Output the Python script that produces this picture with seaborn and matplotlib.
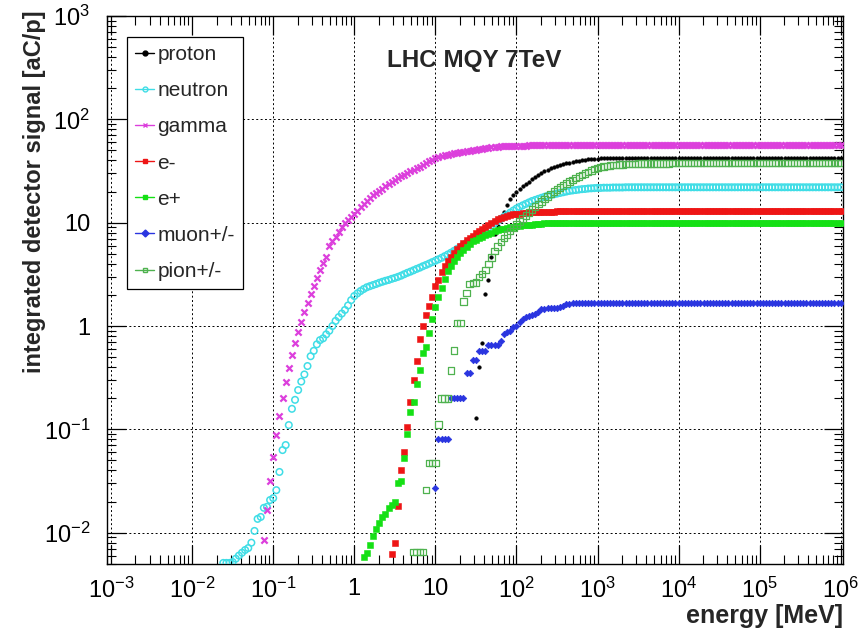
import numpy as np
import pandas as pd
import matplotlib
matplotlib.use("Agg")
import matplotlib.pyplot as plt
from matplotlib.lines import Line2D
from matplotlib.ticker import FixedLocator, FuncFormatter, NullFormatter
import seaborn as sns

# Energy binning of the scan: 26 log bins per decade, bin k sits at 10**(k/26) MeV
BINS_PER_DECADE = 26

# Integrated detector signal [aC/p] per particle, listed from the first non-zero bin
proton_first_bin = 39
proton = [
    0.13, 0.40, 0.68, 2.06, 2.8, 4.7, 7.7, 9.3, 10.6, 12.6, 14.8, 16.8, 18.5,
    19.9, 21.3, 22.5, 23.5, 25.0, 26.3, 27.4, 28.8, 30.3, 31.5, 32.5, 33.5, 34.3,
    35.0, 35.8, 36.6, 37.4, 38.1, 38.8, 39.3, 39.8, 40.3, 40.6, 40.9, 41.2, 41.5,
    41.7, 41.8, 41.9, 41.9, 42.0, 42.0, 42.0, 42.1, 42.1, 42.1, 42.1, 42.2, 42.2,
    42.2, 42.2, 42.2, 42.2, 42.3, 42.3, 42.3, 42.3, 42.3, 42.3, 42.3, 42.3, 42.3,
    42.3, 42.3, 42.3, 42.3, 42.3, 42.3, 42.3, 42.3, 42.3, 42.3, 42.3, 42.3, 42.3,
    42.3, 42.3, 42.3, 42.3, 42.3, 42.3, 42.3, 42.3, 42.3, 42.3, 42.3, 42.3, 42.3,
    42.3, 42.3, 42.3, 42.3, 42.3, 42.3, 42.3, 42.3, 42.3, 42.3, 42.3, 42.3, 42.3,
    42.3, 42.3, 42.3, 42.3, 42.3, 42.3, 42.3, 42.3, 42.3, 42.3, 42.3, 42.3, 42.3,
    42.3,
]

neutron_first_bin = -42
neutron = [
    0.0051, 0.0051, 0.0051,
    0.0052, 0.0056, 0.0060, 0.0064, 0.0068, 0.0071, 0.0080, 0.0104, 0.0136, 0.0142, 0.0174, 0.0178, 0.0207,
    0.0216, 0.0258, 0.0387, 0.063, 0.0705, 0.110, 0.158, 0.193, 0.24, 0.29, 0.34, 0.41, 0.51,
    0.575, 0.665, 0.73, 0.76, 0.83, 0.90, 1.0, 1.12, 1.22, 1.32, 1.43, 1.58, 1.78,
    1.95, 2.07, 2.18, 2.28, 2.37, 2.43, 2.49, 2.55, 2.62, 2.68, 2.74, 2.79, 2.86,
    2.92, 2.99, 3.07, 3.17, 3.27, 3.36, 3.46, 3.57, 3.67, 3.79, 3.90, 4.02, 4.15,
    4.28, 4.42, 4.57, 4.74, 4.92, 5.12, 5.34, 5.58, 5.83, 6.10, 6.38, 6.66, 6.94,
    7.22, 7.55, 7.95, 8.4, 8.9, 9.4, 9.9, 10.4, 10.9, 11.4, 11.9, 12.5, 13.1,
    13.7, 14.2, 14.7, 15.2, 15.7, 16.2, 16.6, 17.0, 17.4, 17.8, 18.2, 18.5, 18.8,
    19.1, 19.4, 19.7, 20.0, 20.3, 20.5, 20.7, 20.9, 21.1, 21.2, 21.4, 21.5, 21.6,
    21.7, 21.7, 21.8, 21.8, 21.8, 21.9, 21.9, 21.9, 21.9, 22.0, 22.0, 22.0, 22.0,
    22.0, 22.0, 22.0, 22.0, 22.0, 22.0, 22.0, 22.0, 22.0, 22.0, 22.0, 22.0, 22.0,
    22.0, 22.0, 22.0, 22.0, 22.0, 22.0, 22.0, 22.0, 22.0, 22.0, 22.0, 22.0, 22.0,
    22.0, 22.0, 22.0, 22.0, 22.0, 22.0, 22.0, 22.0, 22.0, 22.0, 22.0, 22.0, 22.0,
    22.0, 22.0, 22.0, 22.0, 22.0, 22.0, 22.0, 22.0, 22.0, 22.0, 22.0, 22.0, 22.0,
    22.0, 22.0, 22.0, 22.0, 22.0, 22.0, 22.0, 22.0, 22.0, 22.0, 22.0, 22.0, 22.0,
    22.0,
]

gamma_first_bin = -29
gamma = [
    0.0085, 0.0164, 0.0316,
    0.054, 0.089, 0.136, 0.20, 0.286, 0.39, 0.52, 0.685, 0.87, 1.10, 1.37, 1.68, 2.05,
    2.45, 2.93, 3.47, 4.07, 4.68, 5.96, 6.6, 7.33, 8.13, 9.0, 9.9, 10.6, 11.4,
    12.2, 13.1, 14.1, 15.2, 16.3, 17.5, 18.6, 19.5, 20.4, 21.4, 22.5, 23.6, 24.7,
    25.7, 26.9, 28.0, 29.0, 30.2, 31.3, 32.4, 33.5, 34.9, 36.3, 37.8, 39.4, 40.7,
    42.2, 43.2, 44.0, 44.8, 45.5, 46.1, 46.8, 47.4, 48.1, 48.6, 49.2, 49.8, 50.4,
    50.9, 51.5, 52.1, 52.7, 53.2, 53.6, 54.0, 54.3, 54.6, 54.8, 55.1, 55.2, 55.3,
    55.5, 55.6, 55.7, 55.8, 55.9, 56.0, 56.0, 56.1, 56.1, 56.1, 56.2, 56.2, 56.2,
    56.2, 56.2, 56.2, 56.2, 56.2, 56.2, 56.2, 56.3, 56.3, 56.3, 56.3, 56.3, 56.3,
    56.3, 56.3, 56.3, 56.3, 56.3, 56.3, 56.3, 56.3, 56.3, 56.3, 56.3, 56.3, 56.3,
    56.3, 56.3, 56.3, 56.3, 56.3, 56.3, 56.3, 56.3, 56.3, 56.3, 56.3, 56.3, 56.3,
    56.3, 56.3, 56.3, 56.3, 56.3, 56.3, 56.3, 56.3, 56.3, 56.3, 56.3, 56.3, 56.3,
    56.3, 56.3, 56.3, 56.3, 56.3, 56.3, 56.3, 56.3, 56.3, 56.3, 56.3, 56.3, 56.3,
    56.3, 56.3, 56.3, 56.3, 56.3, 56.3, 56.3, 56.3, 56.3, 56.3, 56.3, 56.3, 56.3,
    56.3, 56.3, 56.3, 56.3, 56.3, 56.3, 56.3, 56.3, 56.3, 56.3, 56.3, 56.3, 56.3,
    56.3,
]

electron_first_bin = 12
electron = [
    0.0062,
    0.0079, 0.018, 0.040, 0.060, 0.105, 0.186, 0.30, 0.46, 0.75, 1.0, 1.28, 1.57, 1.93,
    2.43, 2.8, 3.3, 3.8, 4.3, 4.7, 5.1, 5.6, 6.0, 6.4, 6.8, 7.1, 7.5,
    7.9, 8.3, 8.7, 9.1, 9.6, 10.0, 10.4, 10.8, 11.1, 11.4, 11.6, 11.8, 12.0,
    12.1, 12.2, 12.3, 12.4, 12.5, 12.6, 12.6, 12.7, 12.7, 12.8, 12.8, 12.8, 12.8,
    12.9, 12.9, 12.9, 12.9, 12.9, 12.9, 12.9, 12.9, 12.9, 12.9, 12.9, 12.9, 12.9,
    12.9, 12.9, 12.9, 12.9, 12.9, 12.9, 12.9, 12.9, 12.9, 12.9, 12.9, 12.9, 12.9,
    12.9, 12.9, 12.9, 12.9, 12.9, 12.9, 12.9, 12.9, 12.9, 12.9, 12.9, 12.9, 12.9,
    12.9, 12.9, 12.9, 12.9, 12.9, 12.9, 12.9, 12.9, 12.9, 12.9, 12.9, 12.9, 12.9,
    12.9, 12.9, 12.9, 12.9, 12.9, 12.9, 12.9, 12.9, 12.9, 12.9, 12.9, 12.9, 12.9,
    12.9, 12.9, 12.9, 12.9, 12.9, 12.9, 12.9, 12.9, 12.9, 12.9, 12.9, 12.9, 12.9,
    12.9, 12.9, 12.9, 12.9, 12.9, 12.9, 12.9, 12.9, 12.9, 12.9, 12.9, 12.9, 12.9,
    12.9,
]

positron_first_bin = 3
positron = [
    0.0058, 0.0063, 0.0076, 0.0093, 0.0108, 0.0125, 0.0141, 0.0152, 0.0172, 0.0186,
    0.020, 0.030, 0.0317, 0.053, 0.090, 0.148, 0.186, 0.275, 0.376, 0.545, 0.63, 0.86, 1.16,
    1.54, 1.89, 2.31, 2.85, 3.4, 3.85, 4.3, 4.7, 5.1, 5.5, 5.85, 6.25, 6.6,
    6.85, 7.05, 7.3, 7.55, 7.8, 8.0, 8.25, 8.45, 8.6, 8.75, 8.9, 9.0, 9.1,
    9.2, 9.3, 9.4, 9.5, 9.55, 9.6, 9.7, 9.75, 9.8, 9.85, 9.9, 9.9, 9.95,
    10.0, 10.0, 10.0, 10.0, 10.0, 10.0, 10.0, 10.0, 10.0, 10.0, 10.0, 10.0, 10.0,
    10.0, 10.0, 10.0, 10.0, 10.0, 10.0, 10.0, 10.0, 10.0, 10.0, 10.0, 10.0, 10.0,
    10.0, 10.0, 10.0, 10.0, 10.0, 10.0, 10.0, 10.0, 10.0, 10.0, 10.0, 10.0, 10.0,
    10.0, 10.0, 10.0, 10.0, 10.0, 10.0, 10.0, 10.0, 10.0, 10.0, 10.0, 10.0, 10.0,
    10.0, 10.0, 10.0, 10.0, 10.0, 10.0, 10.0, 10.0, 10.0, 10.0, 10.0, 10.0, 10.0,
    10.0, 10.0, 10.0, 10.0, 10.0, 10.0, 10.0, 10.0, 10.0, 10.0, 10.0, 10.0, 10.0,
    10.0, 10.0, 10.0, 10.0, 10.0, 10.0, 10.0, 10.0, 10.0, 10.0, 10.0, 10.0, 10.0,
    10.0,
]

muon_first_bin = 26
muon = [
    0.027, 0.081, 0.081, 0.081, 0.081, 0.203, 0.203, 0.203, 0.203, 0.203, 0.35, 0.35, 0.465,
    0.465, 0.57, 0.57, 0.57, 0.65, 0.65, 0.65, 0.65, 0.72, 0.84, 0.87, 0.90, 0.97,
    1.0, 1.10, 1.16, 1.21, 1.26, 1.29, 1.32, 1.38, 1.45, 1.47, 1.48, 1.50, 1.50,
    1.50, 1.52, 1.57, 1.63, 1.65, 1.66, 1.67, 1.67, 1.67, 1.68, 1.68, 1.68, 1.68,
    1.68, 1.68, 1.68, 1.68, 1.68, 1.68, 1.68, 1.68, 1.68, 1.68, 1.68, 1.68, 1.68,
    1.68, 1.68, 1.68, 1.68, 1.68, 1.68, 1.68, 1.68, 1.68, 1.68, 1.68, 1.68, 1.68,
    1.68, 1.68, 1.68, 1.68, 1.68, 1.68, 1.68, 1.68, 1.68, 1.68, 1.68, 1.68, 1.68,
    1.68, 1.68, 1.68, 1.68, 1.68, 1.68, 1.68, 1.68, 1.68, 1.68, 1.68, 1.68, 1.68,
    1.68, 1.68, 1.68, 1.68, 1.68, 1.68, 1.68, 1.68, 1.68, 1.68, 1.68, 1.68, 1.68,
    1.68, 1.68, 1.68, 1.68, 1.68, 1.68, 1.68, 1.68, 1.68, 1.68, 1.68, 1.68, 1.68,
    1.68,
]

pion_first_bin = 19
pion = [
    0.0065, 0.0065, 0.0065, 0.0065, 0.026, 0.047, 0.047,
    0.047, 0.111, 0.20, 0.20, 0.20, 0.37, 0.58, 1.07, 1.07, 1.73, 2.09, 2.55, 2.6,
    2.65, 2.98, 3.2, 3.5, 4.0, 4.6, 5.3, 5.9, 6.5, 7.1, 7.7, 8.3, 8.9,
    9.6, 10.3, 11.0, 11.8, 12.6, 13.4, 14.3, 15.2, 16.1, 17.0, 18.0, 19.0, 20.0,
    21.0, 22.0, 23.0, 24.0, 25.0, 26.0, 27.0, 28.0, 29.0, 30.0, 31.0, 32.0, 33.0,
    33.8, 34.5, 35.0, 35.4, 35.7, 36.0, 36.3, 36.5, 36.7, 36.9, 37.0, 37.1, 37.1,
    37.2, 37.2, 37.2, 37.3, 37.3, 37.3, 37.3, 37.3, 37.3, 37.3, 37.3, 37.8, 37.8,
    37.8, 37.8, 37.8, 37.8, 37.8, 37.8, 37.8, 37.8, 37.8, 37.8, 37.8, 37.8, 37.8,
    37.8, 37.8, 37.8, 37.8, 37.8, 37.8, 37.8, 37.8, 37.8, 37.8, 37.8, 37.8, 37.8,
    37.8, 37.8, 37.8, 37.8, 37.8, 37.8, 37.8, 37.8, 37.8, 37.8, 37.8, 37.8, 37.8,
    37.8, 37.8, 37.8, 37.8, 37.8, 37.8, 37.8, 37.8, 37.8, 37.8, 37.8, 37.8, 37.8,
    37.8,
]

particles = ["proton", "neutron", "gamma", "e-", "e+", "muon+/-", "pion+/-"]
series = {
    "proton": (proton_first_bin, proton),
    "neutron": (neutron_first_bin, neutron),
    "gamma": (gamma_first_bin, gamma),
    "e-": (electron_first_bin, electron),
    "e+": (positron_first_bin, positron),
    "muon+/-": (muon_first_bin, muon),
    "pion+/-": (pion_first_bin, pion),
}

# decades shown on each axis
x_decades = list(range(-3, 7))
y_decades = list(range(-2, 4))

# marker style per particle: (color, marker, filled, scatter size, edge width)
styles = {
    "proton":  ("#000000", "o", True, 7, 0.3),
    "neutron": ("#3fdde6", "o", False, 22, 1.1),
    "gamma":   ("#dc3fdc", "x", False, 20, 1.6),
    "e-":      ("#ee1515", "s", True, 15, 0.4),
    "e+":      ("#15e015", "s", True, 15, 0.4),
    "muon+/-": ("#2a35e0", "D", True, 11, 0.5),
    "pion+/-": ("#4fb24f", "s", False, 22, 0.9),
}

rows = []
for name in particles:
    first, values = series[name]
    for i, v in enumerate(values):
        rows.append((name, 10 ** ((first + i) / BINS_PER_DECADE), v))
df = pd.DataFrame(rows, columns=["particle", "energy", "signal"])

sns.set_style("ticks")
plt.rcParams["font.family"] = ["Liberation Sans", "DejaVu Sans"]
plt.rcParams["mathtext.fontset"] = "custom"
plt.rcParams["mathtext.rm"] = "Liberation Sans"
plt.rcParams["mathtext.it"] = "Liberation Sans:italic"
plt.rcParams["mathtext.bf"] = "Liberation Sans:bold"

W, H = 859, 637
fig = plt.figure(figsize=(W / 100, H / 100), dpi=100)
ax = fig.add_axes([107 / W, (H - 564) / H, (843 - 107) / W, (564 - 16) / H])

for name in particles:
    color, marker, filled, size, lw = styles[name]
    sub = df[df["particle"] == name]
    kw = dict(data=sub, x="energy", y="signal", ax=ax, marker=marker, s=size,
              linewidth=lw, legend=False, zorder=3)
    if marker == "x":
        sns.scatterplot(color=color, **kw)
    elif filled:
        sns.scatterplot(color=color, edgecolor=color, **kw)
    else:
        sns.scatterplot(facecolor="none", edgecolor=color, **kw)

ax.set_xscale("log")
ax.set_yscale("log")
ax.set_xlim(10 ** -3.05, 10 ** 6.028)
ax.set_ylim(10 ** -2.303, 1e3)


def decade_label(v, pos):
    e = int(round(np.log10(v)))
    if e == 0:
        return "1"
    if e == 1:
        return "10"
    return r"$\mathregular{10^{%d}}$" % e


def minor_positions(decades, lo, hi):
    pos = []
    for d in range(decades[0] - 1, decades[-1] + 1):
        for m in range(2, 10):
            v = m * 10.0 ** d
            if lo <= v <= hi:
                pos.append(v)
    return pos


xlo, xhi = ax.get_xlim()
ylo, yhi = ax.get_ylim()
ax.xaxis.set_major_locator(FixedLocator([10.0 ** d for d in x_decades]))
ax.yaxis.set_major_locator(FixedLocator([10.0 ** d for d in y_decades]))
ax.xaxis.set_minor_locator(FixedLocator(minor_positions(x_decades, xlo, xhi)))
ax.yaxis.set_minor_locator(FixedLocator(minor_positions(y_decades, ylo, yhi)))
for axis in (ax.xaxis, ax.yaxis):
    axis.set_major_formatter(FuncFormatter(decade_label))
    axis.set_minor_formatter(NullFormatter())

ax.tick_params(which="both", direction="in", top=True, right=True, colors="black")
ax.tick_params(which="major", length=14, width=0.9, labelsize=17)
ax.tick_params(which="minor", length=6.5, width=0.8)
ax.tick_params(axis="x", which="major", pad=10)
ax.tick_params(axis="y", which="major", pad=12)

ax.grid(True, which="major", linestyle=(0, (2.0, 2.5)), color="black", linewidth=0.7)
ax.set_axisbelow(True)
for sp in ax.spines.values():
    sp.set_color("black")
    sp.set_linewidth(1.0)

ax.set_xlabel("energy [MeV]", fontsize=18, fontweight="bold", loc="right")
ax.set_ylabel("integrated detector signal [aC/p]", fontsize=17, fontweight="bold", loc="top")
ax.xaxis.set_label_coords(1.0, (564 - 604) / 548)
ax.yaxis.set_label_coords((46 - 107) / 736, (564 - 10) / 548)

fig.text(474 / W, 1 - 60 / H, "LHC MQY 7TeV", ha="center", va="center",
         fontsize=17.5, fontweight="bold")

handles = []
for name in particles:
    color, marker, filled, size, lw = styles[name]
    handles.append(Line2D([0], [0], color=color, lw=1.0, marker=marker, markersize=3.5,
                          markerfacecolor=color if (filled or marker == "x") else "none",
                          markeredgecolor=color, markeredgewidth=1.0))
leg = ax.legend(handles, particles, loc="upper left",
                bbox_to_anchor=((127 - 107) / 736, (564 - 37) / 548),
                borderaxespad=0, frameon=True, fancybox=False, framealpha=1,
                edgecolor="black", fontsize=15, handlelength=0.9, handletextpad=0.15,
                labelspacing=0.82, borderpad=0.4)
leg.get_frame().set_linewidth(0.9)
leg.set_zorder(5)

fig.savefig("out.png", dpi=100)
